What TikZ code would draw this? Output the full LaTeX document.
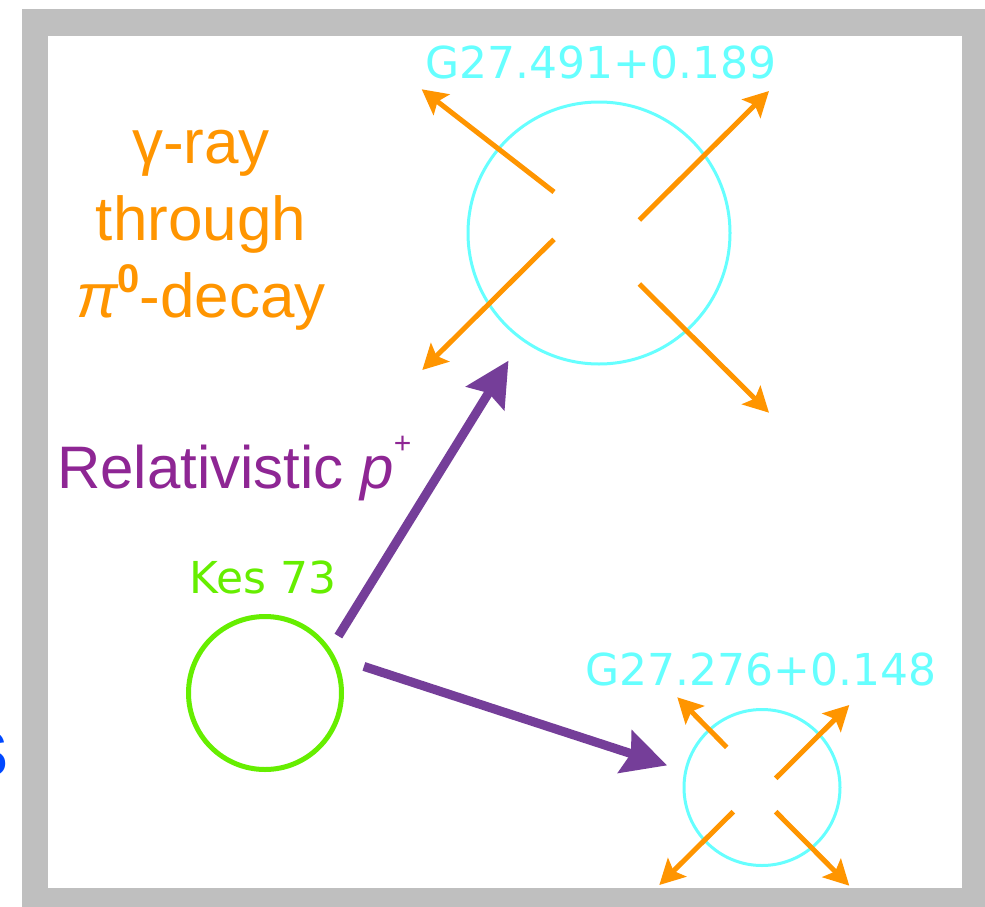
\documentclass[tikz,border=0pt]{standalone}
\usepackage{fontspec}
\setmainfont{Liberation Sans}
\newfontfamily\dejavu{DejaVu Sans}
\usetikzlibrary{arrows.meta}
\definecolor{framegray}{RGB}{191,191,191}
\definecolor{orng}{RGB}{255,149,0}
\definecolor{cyanl}{RGB}{102,255,255}
\definecolor{grn}{RGB}{102,238,0}
\definecolor{parrow}{RGB}{117,62,153}
\definecolor{ptext}{RGB}{142,38,148}
\definecolor{blu}{RGB}{0,72,255}
\begin{document}
\begin{tikzpicture}[x=1pt,y=-1pt,
  src/.style={circle,draw,inner sep=0pt},
  lbl/.style={font=\dejavu\fontsize{44}{44}\selectfont, inner sep=0pt, anchor=base},
  gam/.style={draw=orng, line width=5pt, -{Stealth[length=25pt,width=26pt,inset=5pt]}},
  prot/.style={draw=parrow, line width=9pt, -{Stealth[length=44pt,width=44pt,inset=6pt]}},
  otext/.style={text=orng, font=\fontsize{62}{62}\selectfont, inner sep=0pt, anchor=base}]
\useasboundingbox (0,0) rectangle (985,907);
\fill[framegray] (22,9) rectangle (985,907);
\fill[white] (48,36) rectangle (962,888);

\begin{scope}
  \clip (0,0) rectangle (6,907);
  \node[anchor=base east, inner sep=0pt, text=blu, font=\fontsize{64}{64}\selectfont\bfseries] (cut) at (8,776) {S};
\end{scope}

% sources
\node[src, draw=cyanl, line width=3pt, minimum size=262pt] (big) at (599,233) {};
\node[src, draw=cyanl, line width=3pt, minimum size=156pt] (small) at (762,787.5) {};
\node[src, draw=grn, line width=5pt, minimum size=153pt] (kes) at (265,693) {};

\node[lbl, text=cyanl] (bigl) at (601,78) {G27.491+0.189};
\node[lbl, text=cyanl] (smalll) at (761,685) {G27.276+0.148};
\node[lbl, text=grn] (kesl) at (263,593) {Kes 73};

% gamma rays, big cloud
\draw[gam] ([shift={(-45,-41)}]big.center) -- ([shift={(-177.3,-143.7)}]big.center);
\draw[gam] ([shift={(40.3,-13)}]big.center) -- ([shift={(170,-142)}]big.center);
\draw[gam] ([shift={(-45,6.3)}]big.center) -- ([shift={(-176.7,137)}]big.center);
\draw[gam] ([shift={(40.3,51)}]big.center) -- ([shift={(170,179.7)}]big.center);

% gamma rays, small cloud
\draw[gam] ([shift={(-35.3,-40.2)}]small.center) -- ([shift={(-84.7,-90.2)}]small.center);
\draw[gam] ([shift={(13.7,-9.2)}]small.center) -- ([shift={(87.3,-82.5)}]small.center);
\draw[gam] ([shift={(-28.7,24.2)}]small.center) -- ([shift={(-102.7,97.5)}]small.center);
\draw[gam] ([shift={(13.7,24.2)}]small.center) -- ([shift={(87.3,98.2)}]small.center);

% protons
\draw[prot, shorten <=15pt, shorten >=24pt] (kes.34) -- (big.234);
\draw[prot, shorten <=30pt, shorten >=18pt] (kes.27) -- (small.168);

% texts
\node[otext] (g1) at (201,163) {γ-ray};
\node[otext] (g2) at (201,240) {through};
\node[otext] (g3) at (201,317) {{\itshape π}\raisebox{25pt}{\fontsize{40}{40}\selectfont\bfseries 0}-decay};
\node[inner sep=0pt, anchor=base west, text=ptext, font=\fontsize{60}{60}\selectfont] (rel) at (57,488) {Relativistic {\itshape p}\raisebox{35pt}{\fontsize{30}{30}\selectfont +}};
\end{tikzpicture}
\end{document}
